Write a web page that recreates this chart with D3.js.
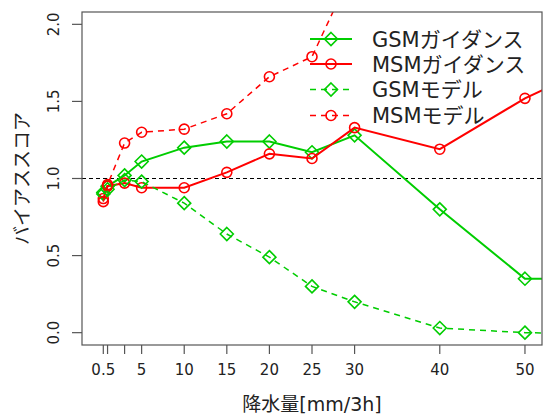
<!DOCTYPE html>
<meta charset="utf-8">
<style>
  body { margin: 0; background: #fff; }
  text { font-family: "DejaVu Sans", "Noto Sans CJK JP", sans-serif; fill: #222; }
  .tick-label { font-size: 15px; }
  .axis-title { font-size: 19px; }
  .legend-text { font-size: 21px; }
</style>
<script src="https://d3js.org/d3.v7.min.js"></script>
<svg width="543" height="414"></svg>
<script>
// thresholds (mm/3h); the last one sits past the right edge and is clipped
var thresholds = [0.5, 1, 3, 5, 10, 15, 20, 25, 30, 40, 50, 60];
var gsmGuidance = [0.91, 0.95, 1.02, 1.11, 1.20, 1.24, 1.24, 1.17, 1.28, 0.80, 0.35, 0.35];
var msmGuidance = [0.87, 0.95, 0.97, 0.94, 0.94, 1.04, 1.16, 1.13, 1.33, 1.19, 1.52, 1.78];
var gsmModel    = [0.90, 0.93, 0.99, 0.98, 0.84, 0.64, 0.49, 0.30, 0.20, 0.03, 0.00, -0.01];
var msmModel    = [0.85, 0.96, 1.23, 1.30, 1.32, 1.42, 1.66, 1.79, 2.38, 2.6, 2.8, 3.0];

var xTicks = [0.5, 1, 3, 5, 10, 15, 20, 25, 30, 40, 50];
var xTickLabels = ["0.5", "", "", "5", "10", "15", "20", "25", "30", "40", "50"];
var yTicks = [0, 0.5, 1, 1.5, 2];

var series = [
  {name: "GSMガイダンス", values: gsmGuidance, color: "#00cd00", dash: null, shape: "diamond"},
  {name: "MSMガイダンス", values: msmGuidance, color: "#ff0000", dash: null, shape: "circle"},
  {name: "GSMモデル", values: gsmModel, color: "#00cd00", dash: "6,5", shape: "diamond"},
  {name: "MSMモデル", values: msmModel, color: "#ff0000", dash: "6,5", shape: "circle"}
];

var svg = d3.select("svg");
var pLeft = 82, pRight = 542, pTop = 12, pBottom = 345;

var x = d3.scaleLinear().domain([-2, 52]).range([pLeft, pRight]);
var y = d3.scaleLinear().domain([-0.08, 2.08]).range([pBottom, pTop]);

svg.append("clipPath").attr("id", "plotclip")
  .append("rect").attr("x", pLeft).attr("y", pTop)
  .attr("width", pRight - pLeft).attr("height", pBottom - pTop);

// reference line at 1.0
svg.append("line")
  .attr("x1", pLeft).attr("x2", pRight)
  .attr("y1", y(1)).attr("y2", y(1))
  .attr("stroke", "#000").attr("stroke-width", 1)
  .attr("stroke-dasharray", "4,3");

var plot = svg.append("g").attr("clip-path", "url(#plotclip)");

var line = d3.line()
  .x(function(d, i) { return x(thresholds[i]); })
  .y(function(d) { return y(d); });

function marker(g, shape, color, cx, cy) {
  if (shape == "circle") {
    g.append("circle").attr("cx", cx).attr("cy", cy).attr("r", 5)
      .attr("fill", "none").attr("stroke", color).attr("stroke-width", 1.6);
  } else {
    var s = 6.5;
    g.append("path")
      .attr("d", "M" + cx + "," + (cy - s) + "L" + (cx + s) + "," + cy +
        "L" + cx + "," + (cy + s) + "L" + (cx - s) + "," + cy + "Z")
      .attr("fill", "none").attr("stroke", color).attr("stroke-width", 1.6);
  }
}

series.forEach(function(s) {
  plot.append("path")
    .attr("d", line(s.values))
    .attr("fill", "none")
    .attr("stroke", s.color)
    .attr("stroke-width", s.dash ? 1.5 : 2)
    .attr("stroke-dasharray", s.dash);
  s.values.forEach(function(v, i) {
    marker(plot, s.shape, s.color, x(thresholds[i]), y(v));
  });
});

// box
svg.append("rect")
  .attr("x", pLeft).attr("y", pTop)
  .attr("width", pRight - pLeft).attr("height", pBottom - pTop)
  .attr("fill", "none").attr("stroke", "#555").attr("stroke-width", 1.2);

// x axis
var xa = svg.append("g");
xa.selectAll("line").data(xTicks).enter().append("line")
  .attr("x1", function(d) { return x(d); }).attr("x2", function(d) { return x(d); })
  .attr("y1", pBottom).attr("y2", pBottom + 9)
  .attr("stroke", "#555").attr("stroke-width", 1.2);
xa.selectAll("text").data(xTicks).enter().append("text")
  .attr("class", "tick-label")
  .attr("x", function(d) { return x(d); })
  .attr("y", 370).attr("dy", "0.36em")
  .attr("text-anchor", "middle")
  .text(function(d, i) { return xTickLabels[i]; });

// y axis
var ya = svg.append("g");
ya.selectAll("line").data(yTicks).enter().append("line")
  .attr("x1", pLeft - 10).attr("x2", pLeft)
  .attr("y1", function(d) { return y(d); }).attr("y2", function(d) { return y(d); })
  .attr("stroke", "#555").attr("stroke-width", 1.2);
ya.selectAll("text").data(yTicks).enter().append("text")
  .attr("class", "tick-label")
  .attr("transform", function(d) { return "translate(54," + y(d) + ") rotate(-90)"; })
  .attr("dy", "0.36em")
  .attr("text-anchor", "middle")
  .text(function(d) { return d3.format(".1f")(d); });

svg.append("text").attr("class", "axis-title")
  .attr("x", (pLeft + pRight) / 2).attr("y", 404).attr("dy", "0.36em")
  .attr("text-anchor", "middle")
  .text("降水量[mm/3h]");

svg.append("text").attr("class", "axis-title")
  .attr("transform", "translate(22," + ((pTop + pBottom) / 2) + ") rotate(-90)")
  .attr("dy", "0.36em")
  .attr("text-anchor", "middle")
  .text("バイアススコア");

// legend
var legendY = [39, 64, 89.5, 115.5];
var lg = svg.append("g");
series.forEach(function(s, i) {
  var ly = legendY[i];
  lg.append("line")
    .attr("x1", 310).attr("x2", 352).attr("y1", ly).attr("y2", ly)
    .attr("stroke", s.color)
    .attr("stroke-width", s.dash ? 1.5 : 2)
    .attr("stroke-dasharray", s.dash);
  marker(lg, s.shape, s.color, 331, ly);
  lg.append("text").attr("class", "legend-text")
    .attr("x", 372).attr("y", ly).attr("dy", "0.36em")
    .text(s.name);
});
</script>
